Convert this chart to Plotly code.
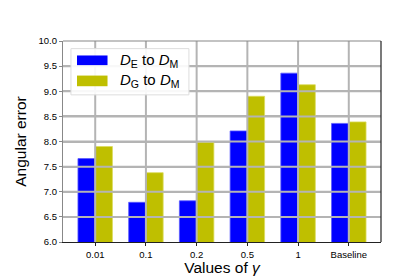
import plotly.graph_objects as go

categories = ["0.01", "0.1", "0.2", "0.5", "1", "Baseline"]
de_to_dm = [7.66, 6.79, 6.82, 8.21, 9.36, 8.36]
dg_to_dm = [7.90, 7.38, 7.98, 8.90, 9.13, 8.39]
series_names = ["<i>D</i><sub>E</sub> to <i>D</i><sub>M</sub>",
                "<i>D</i><sub>G</sub> to <i>D</i><sub>M</sub>"]
series_colors = ["#0000ff", "#bfbf00"]
edge_colors = ["#5a5aff", "#dcdc60"]
y_ticks = [6.0, 6.5, 7.0, 7.5, 8.0, 8.5, 9.0, 9.5, 10.0]

FONT = "Liberation Sans, Arial, sans-serif"
X_RANGE = [-0.635, len(categories) - 1 + 0.635]

fig = go.Figure()
for name, vals, col, ec in zip(series_names, [de_to_dm, dg_to_dm], series_colors, edge_colors):
    fig.add_trace(go.Bar(x=categories, y=vals, name=name,
                         marker=dict(color=col, line=dict(color=ec, width=0.8))))

grid_col = "#b4b4b4"
for t in y_ticks[1:-1]:
    fig.add_shape(type="line", xref="paper", yref="y", x0=0, x1=1, y0=t, y1=t,
                  line=dict(color=grid_col, width=2), layer="above")
for i, c in enumerate(categories):
    fig.add_shape(type="line", xref="x", yref="paper", x0=i, x1=i, y0=0, y1=1,
                  line=dict(color=grid_col, width=2), layer="above")
# top and right spines
fig.add_shape(type="line", xref="paper", yref="paper", x0=0, x1=1, y0=1, y1=1,
              line=dict(color="#888888", width=1.2), layer="above")
fig.add_shape(type="line", xref="paper", yref="paper", x0=1, x1=1, y0=0, y1=1,
              line=dict(color="#222222", width=1.2), layer="above")

# custom legend
lx0, lx1, ly0, ly1 = 0.025, 0.396, 0.732, 0.962
fig.add_shape(type="rect", xref="paper", yref="paper", x0=lx0, x1=lx1, y0=ly0, y1=ly1,
              fillcolor="rgba(255,255,255,0.9)", line=dict(color="#dddddd", width=1), layer="above")
rows = [(0.928, 0.880, 0.904), (0.828, 0.775, 0.801)]
for (ya, yb, yc), name, col in zip(rows, series_names, series_colors):
    fig.add_shape(type="rect", xref="paper", yref="paper", x0=0.044, x1=0.140, y0=yb, y1=ya,
                  fillcolor=col, line=dict(width=0), layer="above")
    fig.add_annotation(xref="paper", yref="paper", x=0.172, y=yc, text=name, showarrow=False,
                       xanchor="left", yanchor="middle", font=dict(family=FONT, size=15, color="black"))

fig.update_layout(
    width=415, height=277,
    margin=dict(l=52, r=42, t=33, b=35),
    paper_bgcolor="white", plot_bgcolor="white",
    barmode="group", bargap=0.32, bargroupgap=0,
    showlegend=False,
    font=dict(family=FONT, color="black"),
    xaxis=dict(type="category", range=X_RANGE, showgrid=False,
               showline=True, linecolor="#222222", linewidth=1.2,
               ticks="outside", ticklen=3, tickcolor="#222222",
               tickfont=dict(size=9.5, family=FONT),
               title=dict(text="Values of <i>γ</i>", font=dict(size=15.5, family=FONT), standoff=3)),
    yaxis=dict(range=[6.0, 10.0], tickvals=y_ticks, tickformat=".1f",
               showgrid=True, gridcolor=grid_col, gridwidth=2,
               showline=True, linecolor="#888888", linewidth=1.2,
               ticks="outside", ticklen=3, tickcolor="#888888",
               tickfont=dict(size=9.5, family=FONT),
               title=dict(text="Angular error", font=dict(size=15.5, family=FONT), standoff=8)),
)

fig.write_html("out.html")
